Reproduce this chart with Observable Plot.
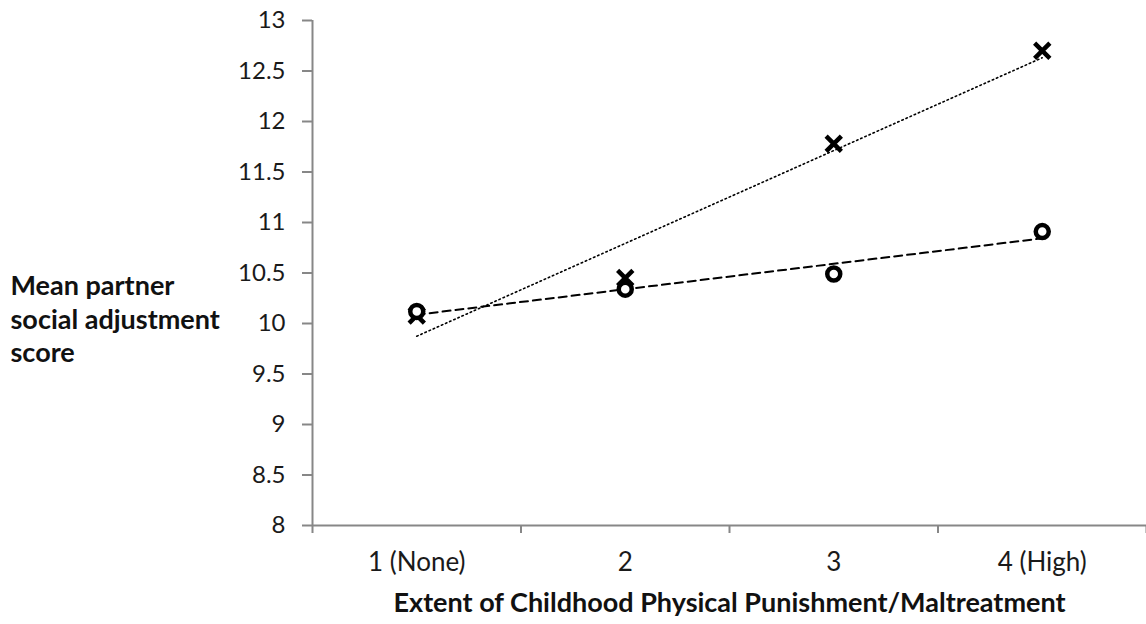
<!DOCTYPE html>
<html>
<head>
<meta charset="utf-8">
<script src="https://cdn.jsdelivr.net/npm/d3@7"></script>
<script src="https://cdn.jsdelivr.net/npm/@observablehq/plot@0.6"></script>
<style>
  html, body { margin: 0; padding: 0; background: #fff; }
  #chart svg { display: block; }
</style>
</head>
<body>
<div id="chart"></div>
<script>
const categories = [1, 2, 3, 4];
const categoryLabels = ["1 (None)", "2", "3", "4 (High)"];
const seriesCross = [10.08, 10.45, 11.78, 12.70];
const seriesCircle = [10.12, 10.34, 10.49, 10.91];
const yTicks = [8, 8.5, 9, 9.5, 10, 10.5, 11, 11.5, 12, 12.5, 13];
const yTitle = "Mean partner\nsocial adjustment\nscore";
const xTitle = "Extent of Childhood Physical Punishment/Maltreatment";

const crossData = categories.map((c, i) => ({x: c, y: seriesCross[i]}));
const circleData = categories.map((c, i) => ({x: c, y: seriesCircle[i]}));

const axisColor = "#878787";
const font = "Lato, 'Open Sans', sans-serif";

const chart = Plot.plot({
  width: 1146,
  height: 624,
  marginLeft: 312,
  marginRight: 0,
  marginTop: 20,
  marginBottom: 99,
  style: {fontFamily: font, background: "#fff"},
  x: {domain: [0.5, 4.5]},
  y: {domain: [8, 13]},
  marks: [
    Plot.ruleX([0.5], {y1: 8, y2: 13, stroke: axisColor, strokeWidth: 2}),
    Plot.ruleY([8], {stroke: axisColor, strokeWidth: 2}),
    Plot.axisY({ticks: yTicks, tickSize: 10, tickPadding: 17, stroke: axisColor, strokeWidth: 2, tickFormat: d => String(d), label: null, fill: "#1a1a1a", fontSize: 24}),
    Plot.axisX({ticks: [0.5, 1.5, 2.5, 3.5, 4.5], tickSize: 8, stroke: axisColor, strokeWidth: 2, tickFormat: () => "", label: null}),
    Plot.axisX({ticks: categories, tickSize: 0, tickPadding: 27, tickFormat: d => categoryLabels[categories.indexOf(d)], label: null, fill: "#1a1a1a", fontSize: 26}),
    Plot.linearRegressionY(crossData, {x: "x", y: "y", ci: 0, stroke: "#000", strokeWidth: 1.6, strokeDasharray: "1.5,3"}),
    Plot.linearRegressionY(circleData, {x: "x", y: "y", ci: 0, stroke: "#000", strokeWidth: 2, strokeDasharray: "8,5"}),
    Plot.dot(crossData, {x: "x", y: "y", symbol: "times", r: 7, stroke: "#000", strokeWidth: 4.5}),
    Plot.dot(circleData, {x: "x", y: "y", symbol: "circle", r: 6.5, stroke: "#000", fill: "#fff", strokeWidth: 4.5}),
    Plot.text([yTitle], {frameAnchor: "left", dx: -302, dy: 45, textAnchor: "start", fontWeight: "bold", fontSize: 27, lineHeight: 1.23, fill: "#111"}),
    Plot.text([xTitle], {frameAnchor: "bottom", dy: 86, fontWeight: "bold", fontSize: 27, fill: "#111"})
  ]
});
document.getElementById("chart").appendChild(chart);
</script>
</body>
</html>
